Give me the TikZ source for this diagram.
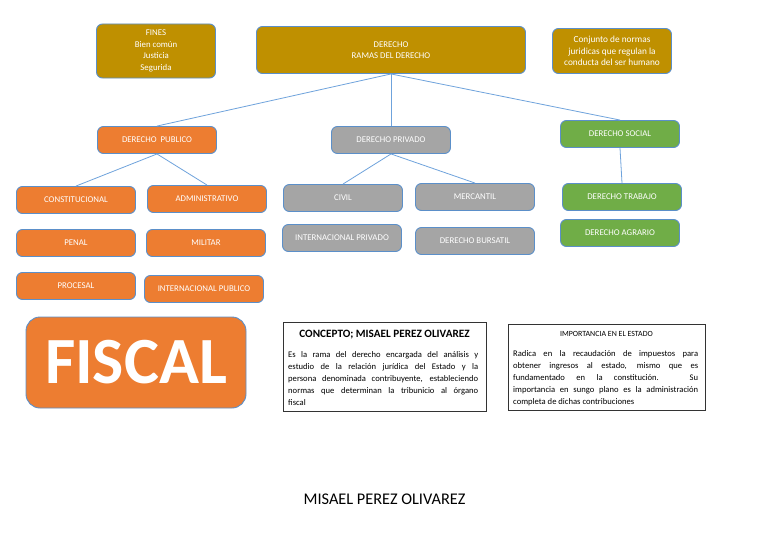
\documentclass[tikz,border=0pt]{standalone}
\usepackage{fontspec}
\setmainfont{Carlito}
\definecolor{gold}{HTML}{BF9000}
\definecolor{orng}{HTML}{ED7D31}
\definecolor{gry}{HTML}{A5A5A5}
\definecolor{grn}{HTML}{70AD47}
\definecolor{bord}{HTML}{5B8FC9}
\definecolor{lnk}{HTML}{6FA3DC}
\tikzset{
  box/.style={draw=bord, line width=0.9pt, rounded corners=6pt, text=white, font=\fontsize{8.8}{11.5}\selectfont, align=center, inner sep=0pt, minimum width=119pt, minimum height=27pt},
  goldbox/.style={box, fill=gold},
  orbox/.style={box, fill=orng},
  grbox/.style={box, fill=gry},
  gnbox/.style={box, fill=grn},
  link/.style={draw=lnk, line width=0.8pt},
  txtbox/.style={draw=black!80, line width=0.8pt, inner sep=0pt},
  body/.style={font=\fontsize{8.6}{12.2}\selectfont, anchor=north west, inner sep=0pt, align=justify}
}
\begin{document}
\begin{tikzpicture}[x=1pt,y=-1pt]
\useasboundingbox (0,0) rectangle (768,543);
\fill[white] (0,0) rectangle (768,543);
% top row
\node[goldbox, minimum width=119pt, minimum height=54pt] (fines) at (156,51) {FINES\\Bien común\\Justicia\\Segurida};
\node[goldbox, minimum width=269pt, minimum height=47pt] (derecho) at (391,50) {DERECHO\\RAMAS DEL DERECHO};
\node[goldbox, minimum width=119pt, minimum height=45pt, font=\fontsize{9.3}{11.5}\selectfont] (conj) at (612,51) {Conjunto de normas\\juridicas que regulan la\\conducta del ser humano};
% second row
\node[orbox] (pub) at (157,140) {DERECHO\ \ PUBLICO};
\node[grbox] (priv) at (391,140) {DERECHO PRIVADO};
\node[gnbox] (soc) at (620,134) {DERECHO SOCIAL};
% publico children
\node[orbox] (const) at (76,200) {CONSTITUCIONAL};
\node[orbox] (admin) at (207,199) {ADMINISTRATIVO};
\node[orbox] (penal) at (76,243) {PENAL};
\node[orbox] (milit) at (206,243) {MILITAR};
\node[orbox] (proc) at (76,286) {PROCESAL};
\node[orbox] (intpub) at (204,289) {INTERNACIONAL PUBLICO};
% privado children
\node[grbox] (civil) at (343,198) {CIVIL};
\node[grbox] (merc) at (475,197) {MERCANTIL};
\node[grbox] (intpriv) at (342,238) {INTERNACIONAL PRIVADO};
\node[grbox] (burs) at (475,241) {DERECHO BURSATIL};
% social children
\node[gnbox] (trab) at (622,197) {DERECHO TRABAJO};
\node[gnbox] (agr) at (620,233) {DERECHO AGRARIO};
% connectors
\draw[link] (derecho.south) -- (pub.north);
\draw[link] (derecho.south) -- (priv.north);
\draw[link] (derecho.south) -- (soc.north);
\draw[link] (pub.south) -- (const.north);
\draw[link] (pub.south) -- (admin.north);
\draw[link] (priv.south) -- (civil.north);
\draw[link] (priv.south) -- (merc.north);
\draw[link] (soc.south) -- (trab.north);
% FISCAL
\node[draw=bord, line width=0.9pt, fill=orng, rounded corners=14pt, minimum width=220pt, minimum height=91pt, inner sep=0pt, text=white, font=\fontsize{66}{66}\selectfont\bfseries] (fiscal) at (136,362.5) {FISCAL};
% concepto
\node[txtbox, minimum width=203pt, minimum height=89pt] (conc) at (384.5,366.5) {};
\node[font=\fontsize{11.2}{13}\selectfont\bfseries, anchor=base, inner sep=0pt] (conct) at (384.5,337) {CONCEPTO; MISAEL PEREZ OLIVAREZ};
\node[body, text width=190pt] (concb) at (288,351) {Es la rama del derecho encargada del análisis y\linebreak estudio de la relación jurídica del Estado y la\linebreak persona denominada contribuyente, estableciendo\linebreak normas que determinan la tribunicio al órgano\linebreak fiscal};
% importancia
\node[txtbox, minimum width=197pt, minimum height=86pt] (imp) at (606.5,367) {};
\node[font=\fontsize{7.9}{9}\selectfont, anchor=base, inner sep=0pt] (impt) at (606.5,336) {IMPORTANCIA EN EL ESTADO};
\node[body, text width=185pt] (impb) at (513,350) {Radica en la recaudación de impuestos para\linebreak obtener ingresos al estado, mismo que es\linebreak fundamentado en la constitución. Su\linebreak importancia en sungo plano es la administración\linebreak completa de dichas contribuciones};
% author
\node[font=\fontsize{16.3}{18}\selectfont] (autor) at (384.5,499) {MISAEL PEREZ OLIVAREZ};
\end{tikzpicture}
\end{document}
